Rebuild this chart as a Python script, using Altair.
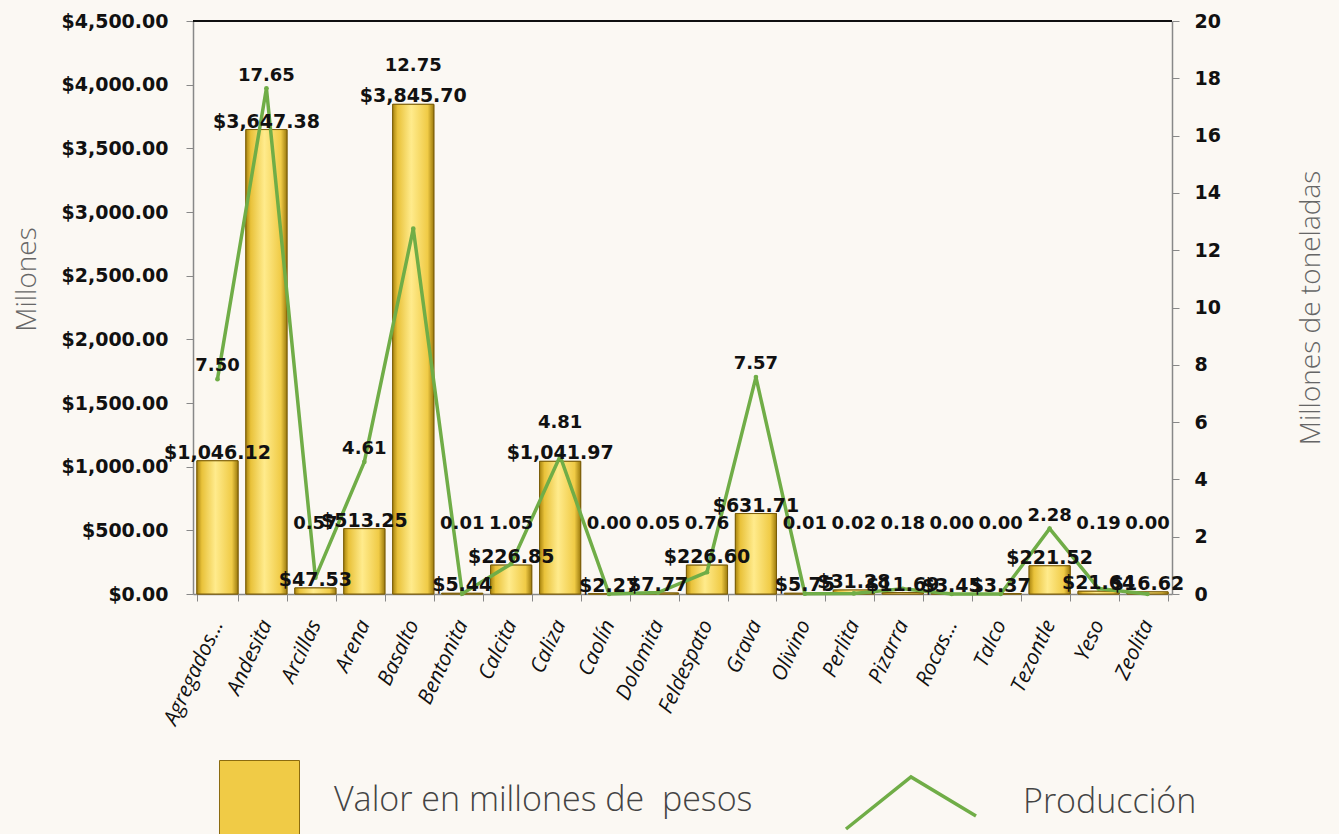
import altair as alt
import pandas as pd

categorias = ["Agregados...", "Andesita", "Arcillas", "Arena", "Basalto", "Bentonita",
              "Calcita", "Caliza", "Caolín", "Dolomita", "Feldespato", "Grava", "Olivino",
              "Perlita", "Pizarra", "Rocas...", "Talco", "Tezontle", "Yeso", "Zeolita"]
valor = [1046.12, 3647.38, 47.53, 513.25, 3845.70, 5.44, 226.85, 1041.97, 2.27, 7.77,
         226.60, 631.71, 5.75, 31.28, 11.69, 3.45, 3.37, 221.52, 21.64, 16.62]
produccion = [7.50, 17.65, 0.57, 4.61, 12.75, 0.01, 1.05, 4.81, 0.00, 0.05,
              0.76, 7.57, 0.01, 0.02, 0.18, 0.00, 0.00, 2.28, 0.19, 0.00]

SERIE_VALOR = "Valor en millones de\u00a0 pesos"
SERIE_PROD = "Producción"

LEFT_MAX = 4500
RIGHT_MAX = 20
ratio = LEFT_MAX / RIGHT_MAX

df = pd.DataFrame({"cat": categorias, "valor": valor, "prod": produccion})
df["serie"] = SERIE_VALOR
df["serie2"] = SERIE_PROD
# production label anchor, in left-axis units (above the bar label or the line point)
df["labpos"] = [max(v + 300, p * ratio + 100, 550) for v, p in zip(valor, produccion)]

W, H = 979, 573
FONT = "Open Sans"
BFONT = "DejaVu Sans"

xenc = alt.X("cat:N", sort=categorias,
             scale=alt.Scale(paddingInner=0.16, paddingOuter=0.08),
             axis=alt.Axis(title=None, labelAngle=-65, labelFontSize=21, labelFont=FONT,
                           labelFontStyle="italic", labelColor="#111", tickColor="#888",
                           domainColor="#888", tickBand="extent", tickSize=7,
                           labelPadding=20, domainWidth=1.5))

yleft_scale = alt.Scale(domain=[0, LEFT_MAX])
yright_scale = alt.Scale(domain=[0, RIGHT_MAX])

base = alt.Chart(df)

bars_legend = base.mark_bar(stroke="#8B6B0F", strokeWidth=1).encode(
    x=xenc,
    y=alt.Y("valor:Q", scale=yleft_scale,
            axis=alt.Axis(orient="left", values=list(range(0, 4501, 500)), format="$,.2f",
                          labelFontSize=19, labelFont=BFONT, labelFontWeight="bold",
                          labelColor="#111", tickColor="#888", domainColor="#888", tickSize=7,
                          labelPadding=18, grid=False, domainWidth=1.5,
                          title="Millones", titleFontSize=28, titleFont=FONT,
                          titleFontWeight=300, titleColor="#666", titlePadding=20,
                          titleY=258)),
    fill=alt.Fill("serie:N", scale=alt.Scale(domain=[SERIE_VALOR], range=["#F0CB46"]),
                  legend=alt.Legend(title=None, orient="none", legendX=26, legendY=739,
                                    symbolType="square", symbolSize=6400,
                                    symbolStrokeColor="#8B6B0F", symbolStrokeWidth=1,
                                    labelFontSize=34, labelFont=FONT, labelFontWeight=300,
                                    labelColor="#444", labelOffset=34, labelLimit=700))
)

grad = alt.Gradient(gradient="linear", x1=0, x2=1, y1=0, y2=0,
                    stops=[alt.GradientStop(offset=0, color="#A9850F"),
                           alt.GradientStop(offset=0.12, color="#E9C23A"),
                           alt.GradientStop(offset=0.45, color="#FFEB8C"),
                           alt.GradientStop(offset=0.85, color="#F0CB46"),
                           alt.GradientStop(offset=1, color="#9C7A0C")])

bars_grad = base.mark_bar(color=grad, stroke="#7A5D0A", strokeWidth=1).encode(
    x=xenc, y=alt.Y("valor:Q", scale=yleft_scale, axis=None)
)

bar_labels = base.mark_text(fontSize=19, font=BFONT, fontWeight="bold", color="#111",
                            dy=-8, baseline="middle").encode(
    x=xenc, y=alt.Y("valor:Q", scale=yleft_scale, axis=None),
    text=alt.Text("valor:Q", format="$,.2f")
)

prod_labels = base.mark_text(fontSize=18, font=BFONT, fontWeight="bold", color="#111",
                             baseline="middle").encode(
    x=xenc, y=alt.Y("labpos:Q", scale=yleft_scale, axis=None),
    text=alt.Text("prod:Q", format=".2f")
)

top_rule = alt.Chart(df).mark_rule(color="#111", strokeWidth=1.5).encode(
    x=alt.value(0), x2=alt.value(W), y=alt.value(0)
)

line = base.mark_line(strokeWidth=3.5).encode(
    x=xenc,
    y=alt.Y("prod:Q", scale=yright_scale,
            axis=alt.Axis(orient="right", values=list(range(0, 21, 2)), labelFontSize=19,
                          labelFont=BFONT, labelFontWeight="bold", labelColor="#111",
                          tickColor="#888", domainColor="#888", tickSize=7, grid=False,
                          labelPadding=15, domainWidth=1.5,
                          title="Millones de toneladas", titleFontSize=28, titleFont=FONT,
                          titleFontWeight=300, titleColor="#666", titleAngle=270,
                          titlePadding=105)),
    stroke=alt.Stroke("serie2:N", scale=alt.Scale(domain=[SERIE_PROD], range=["#70AD47"]),
                      legend=alt.Legend(title=None, orient="none", legendX=651, legendY=715,
                                        symbolType="M-1,0.4L0,-0.4L1,0.2", symbolSize=16900,
                                        symbolStrokeWidth=3.5, symbolFillColor="transparent",
                                        labelFontSize=34, labelFont=FONT, labelFontWeight=300,
                                        labelColor="#444", labelOffset=45, labelLimit=400))
)
pts = base.mark_circle(size=22, color="#70AD47", opacity=1).encode(
    x=xenc, y=alt.Y("prod:Q", scale=yright_scale, axis=None)
)

chart = alt.layer(
    bars_legend, bars_grad, line, pts, bar_labels, prod_labels, top_rule
).resolve_scale(y="independent").properties(
    width=W, height=H, background="#FBF8F3",
    autosize=alt.AutoSizeParams(type="none"),
    padding={"left": 193, "top": 21, "right": 167, "bottom": 240}
).configure_view(stroke=None)

chart.save("out.html", embed_options={"renderer": "svg", "actions": False})
